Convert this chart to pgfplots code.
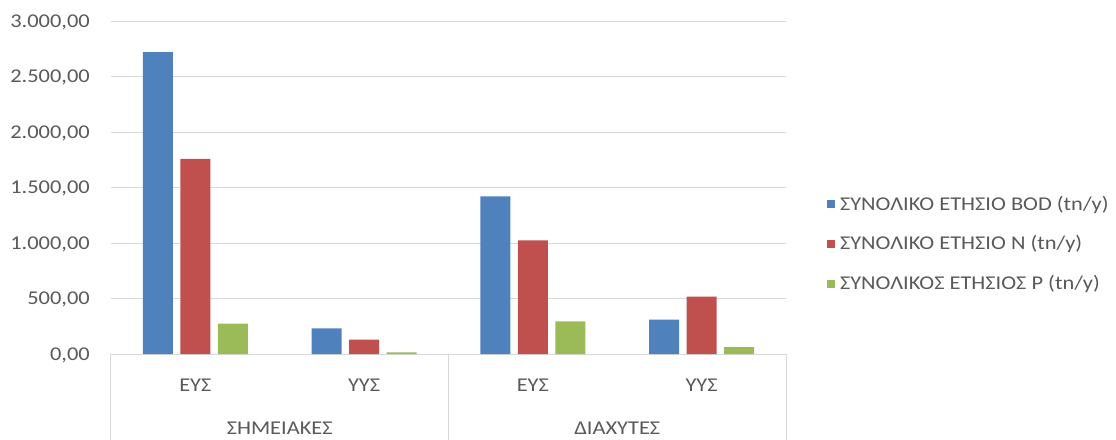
\documentclass[border=0pt]{standalone}
\usepackage{pgfplots}
\pgfplotsset{compat=1.18}
\usepackage{fontspec}
\setmainfont[FakeStretch=1.15]{Carlito}
\definecolor{cblue}{HTML}{4F81BD}
\definecolor{cred}{HTML}{C0504D}
\definecolor{cgreen}{HTML}{9BBB59}
\definecolor{txt}{HTML}{595959}
\definecolor{gridc}{HTML}{D9D9D9}
\begin{document}
\fontsize{19.5}{23}\selectfont
\begin{tikzpicture}
\path[use as bounding box] (0pt,0pt) rectangle (1116pt,439pt);
\begin{axis}[
  at={(111pt,85pt)}, anchor=south west,
  scale only axis, width=675pt, height=333pt,
  xmin=-0.5, xmax=3.5, ymin=0, ymax=3000,
  ytick={0,500,1000,1500,2000,2500,3000},
  xtick={0,1,2,3}, xticklabels={ΕΥΣ,ΥΥΣ,ΕΥΣ,ΥΥΣ},
  axis line style={draw=none}, major tick length=0pt,
  ymajorgrids, grid style={gridc, line width=1pt},
  clip=false,
  tick label style={font=\fontsize{19.5}{23}\selectfont, text=txt},
  xticklabel style={anchor=center, yshift=-31pt},
  yticklabel style={anchor=base east, inner sep=0pt, xshift=-21pt, yshift=-6.3pt},
  /pgf/number format/.cd, fixed, fixed zerofill, precision=2, use comma, 1000 sep={.}, assume math mode=true,
  /pgfplots/.cd,
  legend style={at={(1.056,0.33)}, anchor=west, draw=none, fill=none,
    font=\fontsize{19.5}{23}\selectfont, text=txt, row sep=18.5pt, column sep=3pt},
  legend cell align=left,
]
\addplot[ybar, bar width=30pt, bar shift=-37.5pt, fill=cblue, draw=none,
  legend image code/.code={\fill[cblue] (0pt,-4pt) rectangle (8pt,4pt);}]
  coordinates {(0,2720) (1,231) (2,1420) (3,309)};
\addplot[ybar, bar width=30pt, bar shift=0pt, fill=cred, draw=none,
  legend image code/.code={\fill[cred] (0pt,-4pt) rectangle (8pt,4pt);}]
  coordinates {(0,1757) (1,129) (2,1024) (3,516)};
\addplot[ybar, bar width=30pt, bar shift=37.5pt, fill=cgreen, draw=none,
  legend image code/.code={\fill[cgreen] (0pt,-4pt) rectangle (8pt,4pt);}]
  coordinates {(0,273) (1,15) (2,294) (3,63)};
\legend{ΣΥΝΟΛΙΚΟ ΕΤΗΣΙΟ BOD (tn/y), ΣΥΝΟΛΙΚΟ ΕΤΗΣΙΟ N (tn/y), ΣΥΝΟΛΙΚΟΣ ΕΤΗΣΙΟΣ P (tn/y)}
\draw[gridc, line width=1pt] (rel axis cs:0,0) -- ++(0pt,-90pt);
\draw[gridc, line width=1pt] (axis cs:1.5,0) -- ++(0pt,-90pt);
\draw[gridc, line width=1pt] (rel axis cs:1,0) -- ++(0pt,-90pt);
\node[text=txt, anchor=center, yshift=-74pt] at (axis cs:0.5,0) {ΣΗΜΕΙΑΚΕΣ};
\node[text=txt, anchor=center, yshift=-74pt] at (axis cs:2.5,0) {ΔΙΑΧΥΤΕΣ};
\end{axis}
\end{tikzpicture}
\end{document}
